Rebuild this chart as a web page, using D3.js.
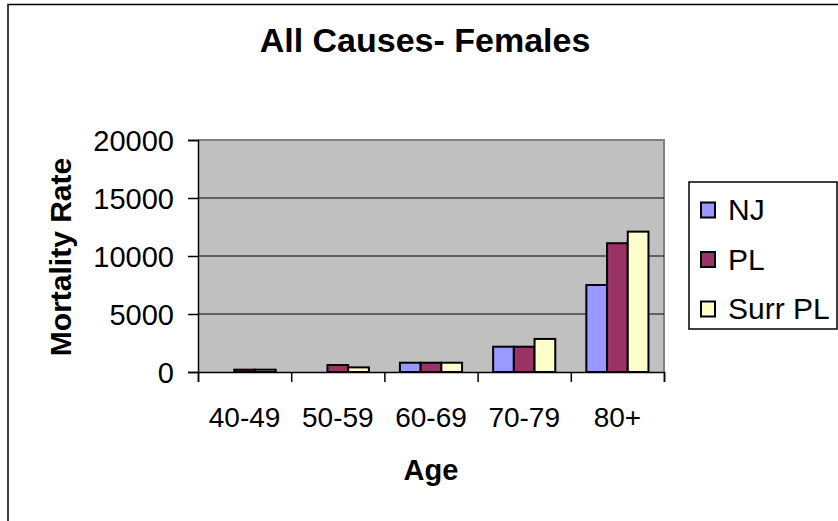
<!DOCTYPE html>
<html>
<head>
<meta charset="utf-8">
<script src="https://cdn.jsdelivr.net/npm/d3@7"></script>
<style>
  body { margin: 0; background: white; }
  text { font-family: Arial, "Liberation Sans", sans-serif; }
</style>
</head>
<body>
<div id="chart"></div>
<script>
const ageGroups = ["40-49", "50-59", "60-69", "70-79", "80+"];
const seriesNames = ["NJ", "PL", "Surr PL"];
const njValues = [0, 0, 800, 2180, 7500];
const plValues = [200, 600, 800, 2180, 11100];
const surrValues = [200, 400, 800, 2850, 12100];
const yTicks = [0, 5000, 10000, 15000, 20000];
const seriesColors = ["#9999FF", "#993366", "#FFFFCC"];

const width = 838,
height = 521,
plot = { left: 198, right: 664, top: 140, bottom: 372 };

const seriesValues = [njValues, plValues, surrValues];

const svg = d3.select("#chart").
append("svg").
attr("width", width).
attr("height", height);

// outer chart frame
svg.append("rect").
attr("x", 8).
attr("y", 4.5).
attr("width", 900).
attr("height", 700).
attr("fill", "white").
attr("stroke", "black").
attr("stroke-width", 1.5);

const xScale = d3.scaleBand().
domain(ageGroups).
range([plot.left, plot.right]);

const yScale = d3.scaleLinear().
domain([0, 20000]).
range([plot.bottom, plot.top]);

const barW = xScale.bandwidth() / 4.5;

// plot area
svg.append("rect").
attr("x", plot.left).
attr("y", plot.top).
attr("width", plot.right - plot.left).
attr("height", plot.bottom - plot.top).
attr("fill", "#C0C0C0");

svg.append("path").
attr("d", `M${plot.left},${plot.top}H${plot.right}V${plot.bottom}`).
attr("fill", "none").
attr("stroke", "#808080").
attr("stroke-width", 2);

// gridlines
svg.append("g").
selectAll("line").
data(yTicks.filter(d => d > 0 && d < 20000)).
join("line").
attr("x1", plot.left).
attr("x2", plot.right).
attr("y1", d => yScale(d)).
attr("y2", d => yScale(d)).
attr("stroke", "black").
attr("stroke-width", 1);

// bars
const groups = svg.append("g").
selectAll("g").
data(ageGroups).
join("g").
attr("transform", d => `translate(${xScale(d) + barW * 0.75},0)`);

groups.selectAll("rect").
data((d, i) => seriesValues.map((vals, s) => ({ s: s, v: vals[i] }))).
join("rect").
filter(d => d.v > 0).
attr("x", d => d.s * barW).
attr("y", d => yScale(d.v)).
attr("width", barW).
attr("height", d => yScale(0) - yScale(d.v)).
attr("fill", d => seriesColors[d.s]).
attr("stroke", "black").
attr("stroke-width", 2);

// y axis
const yAxis = svg.append("g").
attr("transform", `translate(${plot.left},0)`).
call(d3.axisLeft(yScale).
tickValues(yTicks).
tickFormat(d3.format("d")).
tickSize(10).
tickPadding(14));

yAxis.select(".domain").attr("stroke-width", 1.5);
yAxis.selectAll(".tick line").attr("stroke-width", 1.5);
yAxis.selectAll("text").
style("font-size", "29px").
attr("dy", "0.36em");

// x axis: ticks at category boundaries
const edgeScale = d3.scaleLinear().
domain([0, ageGroups.length]).
range([plot.left, plot.right]);

const xAxis = svg.append("g").
attr("transform", `translate(0,${plot.bottom})`).
call(d3.axisBottom(edgeScale).
ticks(ageGroups.length).
tickFormat("").
tickSizeOuter(0).
tickSize(10));

xAxis.select(".domain").attr("stroke-width", 1.5);
xAxis.selectAll(".tick line").attr("stroke-width", 1.5);

const xLabels = svg.append("g").
attr("transform", `translate(0,${plot.bottom})`).
call(d3.axisBottom(xScale).tickSize(0).tickPadding(0));

xLabels.select(".domain").remove();
xLabels.selectAll("text").
attr("y", 55).
attr("dy", 0).
style("font-size", "28px");

// titles
svg.append("text").
attr("x", 425).
attr("y", 52).
attr("text-anchor", "middle").
style("font-size", "34px").
style("font-weight", "bold").
text("All Causes- Females");

svg.append("text").
attr("x", 431).
attr("y", 480).
attr("text-anchor", "middle").
style("font-size", "29px").
style("font-weight", "bold").
text("Age");

svg.append("text").
attr("transform", "translate(71,257) rotate(-90)").
attr("text-anchor", "middle").
style("font-size", "30px").
style("font-weight", "bold").
text("Mortality Rate");

// legend
const legend = svg.append("g");

legend.append("rect").
attr("x", 689).
attr("y", 182).
attr("width", 148).
attr("height", 147).
attr("fill", "white").
attr("stroke", "black").
attr("stroke-width", 1.5);

const items = legend.selectAll("g.item").
data(seriesNames).
join("g").
attr("class", "item").
attr("transform", (d, i) => `translate(701,${210 + i * 49.5})`);

items.append("rect").
attr("x", 0).
attr("y", -7.5).
attr("width", 14).
attr("height", 15).
attr("fill", (d, i) => seriesColors[i]).
attr("stroke", "black").
attr("stroke-width", 2);

items.append("text").
attr("x", 27).
attr("y", 10).
style("font-size", "30px").
text(d => d);
</script>
</body>
</html>
